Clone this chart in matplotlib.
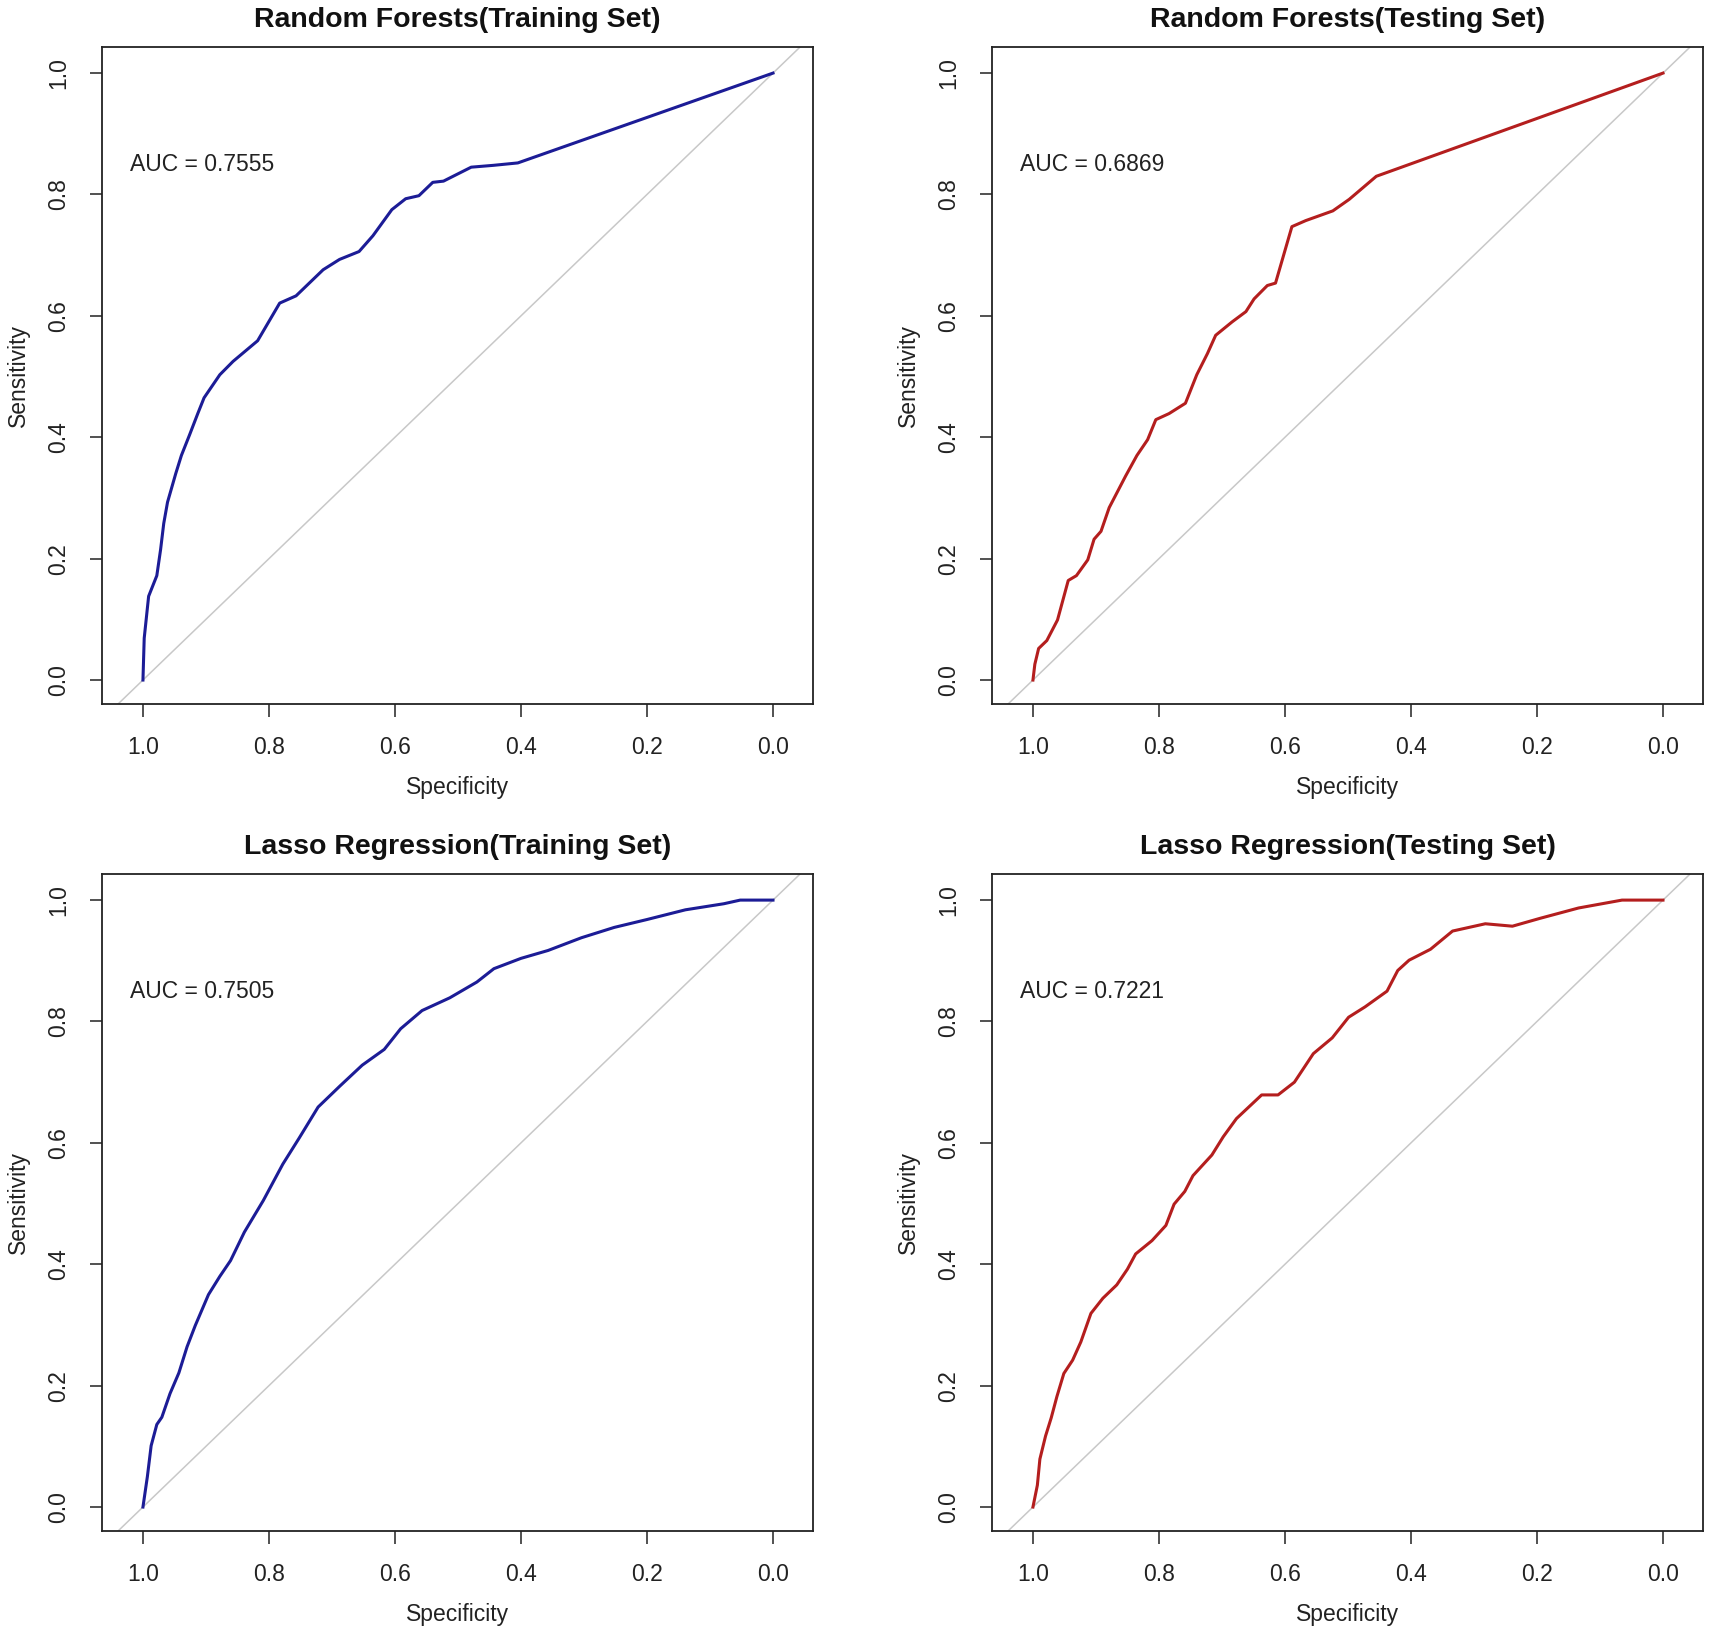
import matplotlib
matplotlib.use('Agg')
import matplotlib.pyplot as plt

plt.rcParams['font.family'] = ['Liberation Sans', 'DejaVu Sans']

# ROC points (specificity, sensitivity)
rf_train_spec = [1.0, 0.998, 0.991, 0.978, 0.972, 0.967, 0.961, 0.948, 0.939, 0.926, 0.913, 0.903,
                 0.878, 0.857, 0.818, 0.783, 0.757, 0.740, 0.714, 0.688, 0.657, 0.635, 0.605, 0.583,
                 0.562, 0.540, 0.523, 0.479, 0.444, 0.405, 0.0]
rf_train_sens = [0.0, 0.069, 0.138, 0.172, 0.215, 0.258, 0.293, 0.340, 0.370, 0.404, 0.439, 0.465,
                 0.503, 0.525, 0.559, 0.621, 0.633, 0.650, 0.676, 0.693, 0.706, 0.732, 0.775, 0.793,
                 0.798, 0.820, 0.822, 0.845, 0.848, 0.852, 1.0]

rf_test_spec = [1.0, 0.997, 0.991, 0.978, 0.961, 0.944, 0.931, 0.913, 0.903, 0.892, 0.879, 0.866,
                0.853, 0.835, 0.818, 0.805, 0.784, 0.758, 0.740, 0.723, 0.710, 0.684, 0.662, 0.649,
                0.628, 0.615, 0.589, 0.567, 0.524, 0.498, 0.455, 0.0]
rf_test_sens = [0.0, 0.026, 0.052, 0.065, 0.099, 0.164, 0.172, 0.198, 0.232, 0.245, 0.284, 0.310,
                0.336, 0.370, 0.396, 0.429, 0.439, 0.456, 0.503, 0.538, 0.568, 0.590, 0.607, 0.628,
                0.650, 0.654, 0.747, 0.757, 0.773, 0.792, 0.830, 1.0]

lasso_train_spec = [1.0, 0.993, 0.987, 0.978, 0.970, 0.957, 0.943, 0.930, 0.917, 0.896, 0.878, 0.861,
                    0.839, 0.809, 0.778, 0.752, 0.722, 0.687, 0.652, 0.617, 0.591, 0.557, 0.513, 0.470,
                    0.443, 0.400, 0.357, 0.304, 0.252, 0.200, 0.139, 0.078, 0.052, 0.0]
lasso_train_sens = [0.0, 0.050, 0.101, 0.136, 0.148, 0.187, 0.221, 0.264, 0.299, 0.350, 0.380, 0.406,
                    0.453, 0.505, 0.565, 0.608, 0.659, 0.694, 0.728, 0.754, 0.788, 0.818, 0.839, 0.865,
                    0.887, 0.904, 0.917, 0.938, 0.955, 0.968, 0.984, 0.994, 1.0, 1.0]

lasso_test_spec = [1.0, 0.993, 0.989, 0.980, 0.971, 0.962, 0.951, 0.937, 0.924, 0.908, 0.889, 0.867,
                   0.850, 0.837, 0.811, 0.789, 0.776, 0.759, 0.746, 0.716, 0.698, 0.677, 0.637, 0.611,
                   0.585, 0.555, 0.525, 0.499, 0.473, 0.438, 0.421, 0.403, 0.369, 0.334, 0.282, 0.239,
                   0.195, 0.134, 0.065, 0.0]
lasso_test_sens = [0.0, 0.036, 0.079, 0.117, 0.147, 0.182, 0.220, 0.242, 0.272, 0.319, 0.344, 0.366,
                   0.392, 0.417, 0.439, 0.464, 0.499, 0.520, 0.546, 0.580, 0.610, 0.640, 0.679, 0.679,
                   0.700, 0.747, 0.773, 0.807, 0.824, 0.850, 0.884, 0.901, 0.919, 0.949, 0.961, 0.957,
                   0.970, 0.987, 1.0, 1.0]

titles = ['Random Forests(Training Set)', 'Random Forests(Testing Set)',
          'Lasso Regression(Training Set)', 'Lasso Regression(Testing Set)']
auc_values = [0.7555, 0.6869, 0.7505, 0.7221]
curves = [(rf_train_spec, rf_train_sens), (rf_test_spec, rf_test_sens),
          (lasso_train_spec, lasso_train_sens), (lasso_test_spec, lasso_test_sens)]
colors = ['#1c1c96', '#b41e1e', '#1c1c96', '#b41e1e']
ticks = [0.0, 0.2, 0.4, 0.6, 0.8, 1.0]

W, H = 1713, 1636
fig = plt.figure(figsize=(W / 100, H / 100), dpi=100)

# box positions in pixels: left, top
box_w, box_h = 711, 657
boxes = [(102, 47), (992, 47), (102, 874), (992, 874)]

fs = 16.5
for i in range(4):
    bx, by = boxes[i]
    ax = fig.add_axes([bx / W, (H - by - box_h) / H, box_w / W, box_h / H])
    spec, sens = curves[i]
    ax.axline((1, 0), (0, 1), color='#c8c8c8', lw=1.1, zorder=1)
    ax.plot(spec, sens, color=colors[i], lw=2.2, zorder=3)
    ax.set_xlim(1.065, -0.0635)
    ax.set_ylim(-0.0395, 1.043)
    ax.set_xticks(ticks)
    ax.set_yticks(ticks)
    ax.set_xticklabels(['%.1f' % t for t in ticks])
    ax.set_yticklabels(['%.1f' % t for t in ticks], rotation=90, va='center')
    ax.tick_params(direction='out', length=9, width=1.1, labelsize=fs, pad=14, colors='#222222')
    for s in ax.spines.values():
        s.set_linewidth(1.3)
        s.set_color('#222222')
    ax.text(0.5, 1.041, titles[i], transform=ax.transAxes, ha='center', va='center',
            fontsize=20.5, fontweight='bold', color='#111111')
    ax.text(0.5, -0.127, 'Specificity', transform=ax.transAxes, ha='center', va='center',
            fontsize=fs, color='#222222')
    ax.text(-0.117, 0.5, 'Sensitivity', transform=ax.transAxes, ha='center', va='center',
            rotation=90, fontsize=fs, color='#222222')
    ax.text(1.02, 0.85, 'AUC = %.4f' % auc_values[i], ha='left', va='center',
            fontsize=fs, color='#222222')

fig.savefig('out.png', dpi=100)
